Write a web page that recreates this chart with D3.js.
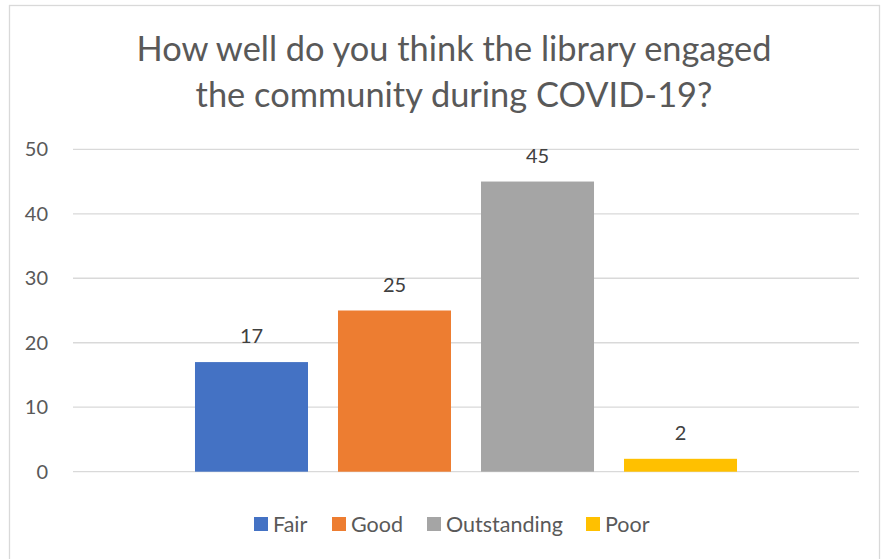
<!DOCTYPE html>
<html>
<head>
<meta charset="utf-8">
<script src="https://cdn.jsdelivr.net/npm/d3@7"></script>
<style>
  html, body { margin: 0; padding: 0; background: #ffffff; }
  svg { display: block; font-family: Lato, "Open Sans", sans-serif; }
</style>
</head>
<body>
<svg id="chart" width="882" height="559"></svg>
<script>
const titleLines = ["How well do you think the library engaged", "the community during COVID-19?"];
const series = ["Fair", "Good", "Outstanding", "Poor"];
const values = [17, 25, 45, 2];
const colors = ["#4472C4", "#ED7D31", "#A5A5A5", "#FFC000"];
const yTicks = [0, 10, 20, 30, 40, 50];

const svg = d3.select("#chart");

// chart border
svg.append("rect")
  .attr("x", 9.5).attr("y", 5.5)
  .attr("width", 870).attr("height", 560)
  .attr("fill", "#ffffff")
  .attr("stroke", "#d9d9d9").attr("stroke-width", 1.3);

const plot = { left: 73, right: 859, top: 149.3, bottom: 471.7 };

const y = d3.scaleLinear().domain([0, 50]).range([plot.bottom, plot.top]);
const x = d3.scaleBand().domain(series)
  .range([plot.left, plot.right])
  .paddingInner(30 / 143)
  .paddingOuter(0.853);
const color = d3.scaleOrdinal().domain(series).range(colors);

// gridlines
svg.append("g").selectAll("line").data(yTicks).join("line")
  .attr("x1", plot.left).attr("x2", plot.right)
  .attr("y1", d => y(d)).attr("y2", d => y(d))
  .attr("stroke", "#d9d9d9").attr("stroke-width", 1.3);

// y axis labels
const yAxis = d3.axisLeft(y).tickValues(yTicks).tickSize(0).tickPadding(0);
const gy = svg.append("g").attr("transform", "translate(48,0)").call(yAxis);
gy.select(".domain").remove();
gy.selectAll("text")
  .attr("font-family", "Lato, sans-serif")
  .attr("font-size", 20)
  .attr("fill", "#595959");

// bars
const data = series.map((s, i) => ({ s, v: values[i] }));
svg.append("g").selectAll("rect").data(data).join("rect")
  .attr("x", d => x(d.s))
  .attr("width", x.bandwidth())
  .attr("y", d => y(d.v))
  .attr("height", d => y(0) - y(d.v))
  .attr("fill", d => color(d.s));

// data labels
svg.append("g").selectAll("text").data(data).join("text")
  .attr("x", d => x(d.s) + x.bandwidth() / 2)
  .attr("y", d => y(d.v) - 19)
  .attr("text-anchor", "middle")
  .attr("font-size", 20)
  .attr("fill", "#404040")
  .text(d => d.v);

// title
const title = svg.append("g");
title.selectAll("text").data(titleLines).join("text")
  .attr("x", 454)
  .attr("y", (d, i) => 61 + i * 46)
  .attr("text-anchor", "middle")
  .attr("font-size", 34.4)
  .attr("fill", "#595959")
  .text(d => d);

// legend
const legendX = [254, 332, 427, 586];
const lg = svg.append("g").selectAll("g").data(series).join("g")
  .attr("transform", (d, i) => `translate(${legendX[i]},517)`);
lg.append("rect").attr("width", 14).attr("height", 14).attr("fill", d => color(d));
lg.append("text").attr("x", 19).attr("y", 14.5)
  .attr("font-size", 21.5).attr("fill", "#595959").text(d => d);
</script>
</body>
</html>
